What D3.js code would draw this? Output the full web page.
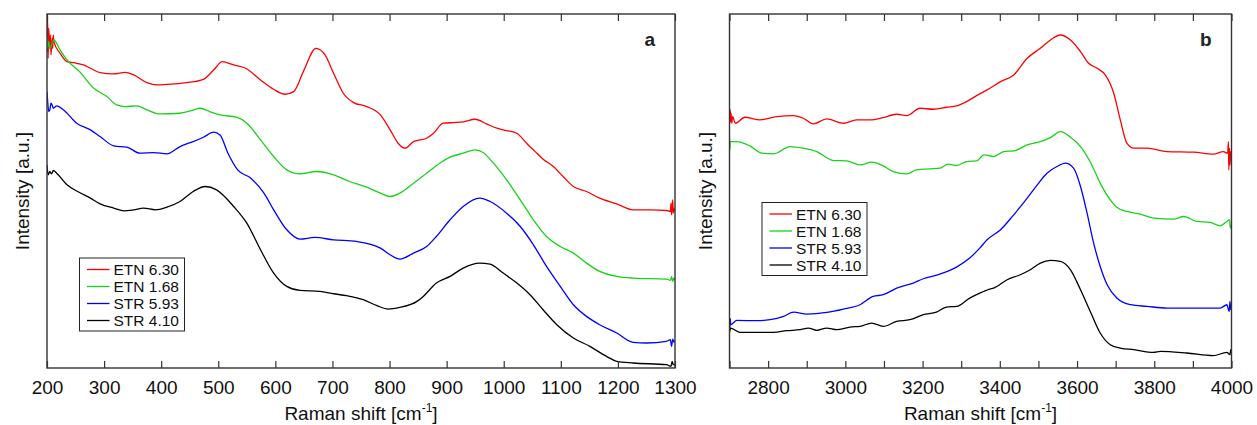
<!DOCTYPE html>
<html>
<head>
<meta charset="utf-8">
<script src="https://cdn.jsdelivr.net/npm/d3@7"></script>
<style>
  body { margin: 0; background: #fff; }
  svg { display: block; font-family: "Liberation Sans", Arial, sans-serif; }
</style>
</head>
<body>
<div id="vis"></div>
<script>
'use strict'

////////////////////////////////////////
//////////////// Data //////////////////
////////////////////////////////////////

const seriesNames = ["ETN 6.30", "ETN 1.68", "STR 5.93", "STR 4.10"];
const seriesColors = ["#ff0000", "#18d218", "#0000ff", "#000000"];

const ticksA = [200, 300, 400, 500, 600, 700, 800, 900, 1000, 1100, 1200, 1300];
const ticksB = [2700, 2800, 2900, 3000, 3100, 3200, 3300, 3400, 3500, 3600, 3700, 3800, 3900, 4000];
const labelsB = [2800, 3000, 3200, 3400, 3600, 3800, 4000];

// panel a : [Raman shift, intensity a.u.]
const etn630A = [[200,95],[201,105.5],[202,93],[203,102],[205,96],[206,100],[207,94],[209,99],[210,96],[211,100],[212,98],
  [223,94.5],[235,92],[252,91.5],[264,91],[276,90],[293,88.7],[317,88.3],[337,88.8],[352,88],[375,85.7],[393,85],
  [422,85.3],[445,85.7],[474,86.7],[492,89.5],[507,92],[527,91],[548,90],[574,86.5],[597,83.7],[617,82.2],[632,83],
  [649,89],[671,96],[687,94],[702,88.5],[719,82.5],[737,79.7],[760,78.5],[784,76],[801,71.5],[815,67.5],[827,66],
  [842,68],[865,69],[877,70.5],[894,73.5],[912,73.7],[929,73.9],[950,74.7],[970,73.3],[988,72],[1005,71.3],[1023,70.5],
  [1040,67.5],[1058,64.5],[1069,62.7],[1087,60.5],[1104,57.5],[1122,54.5],[1145,53],[1168,51],[1198,49.3],[1227,47.5],
  [1256,47.5],[1285,47.3],[1292,47],[1293,49.5],[1294,46],[1295,48],[1296,50.5],[1297,46.5],[1298,48],[1300,47]];

const etn168A = [[200,99],[201,96],[203,98],[205,96],[212,98.5],[223,95.5],[235,92.5],[257,89],[282,84],[305,81.5],
  [322,79],[337,78.5],[357,78.7],[375,77.5],[398,76.3],[433,76.5],[451,77.2],[468,78],[485,77],[503,76],[532,75.3],
  [550,73.5],[574,68.5],[597,63.5],[620,59.5],[643,58.3],[672,59],[702,58],[730,56],[760,54.3],[784,52.5],[801,51.5],
  [818,52.5],[842,55.5],[865,58.5],[888,61.5],[906,63.3],[929,64.5],[950,65.5],[964,64.7],[982,61.5],[1005,56.5],
  [1029,50.5],[1052,44.5],[1075,39.5],[1099,36.5],[1122,34.5],[1145,31.5],[1168,29],[1198,27.5],[1227,27],[1285,26.7],
  [1292,26.3],[1294,27.5],[1296,26],[1298,27],[1300,26.5]];

const str593A = [[200,83],[201,80.5],[203,77],[205,77.5],[207,79.5],[209,79],[211,78],[217,78.7],[229,77.5],[252,73.5],
  [276,71.5],[293,69.5],[317,66.7],[340,66.3],[363,64.5],[387,64.7],[410,64.3],[433,66.5],[456,68],[474,69.3],[492,70.8],
  [503,70],[517,64.5],[534,59.5],[557,57],[580,52.5],[597,47.5],[620,41.5],[643,38.7],[669,39.2],[702,38.5],[742,38],
  [784,36],[801,34],[818,32.7],[842,34.5],[865,36.5],[882,39.5],[906,44.5],[929,48.5],[958,51],[976,50],[1005,46.5],
  [1029,42.5],[1052,37],[1075,30.5],[1099,24.5],[1122,19],[1145,15.5],[1168,13],[1198,10.5],[1227,7.7],[1250,7.5],
  [1285,8],[1292,8.5],[1294,6.5],[1296,8.7],[1298,7.8],[1300,8.2]];

const str410A = [[200,61],[202,58],[205,59],[208,58.3],[211,59.3],[217,58.5],[235,55],[257,52.7],[276,51],[293,49.3],
  [317,48],[335,47.2],[352,47.5],[369,48],[390,47.5],[410,48.3],[433,50],[456,53],[477,54.5],[497,53.5],[527,48.5],
  [550,43.5],[574,35.5],[597,28.5],[620,24.5],[643,23.3],[678,23],[702,22.3],[725,21.7],[754,20.5],[778,18.7],[798,17.7],
  [818,18.2],[848,20],[859,21.5],[882,25.5],[906,27.5],[929,30],[958,31.5],[976,31.2],[999,28.5],[1023,25.5],[1046,22],
  [1069,17.5],[1093,13],[1122,9],[1151,6.5],[1180,3.5],[1198,2],[1227,1.5],[1285,1],[1293,0.5],[1295,2],[1297,1],[1300,1]];

// panel b
const etn630B = [[2700,78],[2701,73.5],[2702,77.5],[2703,74],[2704,76.5],[2706,73.5],[2708,75.5],[2715,73.5],[2740,75.3],
  [2779,74.5],[2822,75.5],[2866,75.8],[2891,75],[2917,73.3],[2952,74.8],[2995,73.5],[3029,74.5],[3064,74.5],[3098,75.2],
  [3133,76.2],[3159,75.8],[3193,78],[3228,77.7],[3262,78.3],[3288,78.7],[3314,80],[3340,81.8],[3367,83.5],[3402,86],
  [3436,88],[3471,93],[3505,96],[3531,98.5],[3557,100],[3583,98.5],[3609,95],[3630,91.5],[3652,90],[3673,88],[3695,82.5],
  [3712,74.5],[3729,67.5],[3747,66],[3781,66],[3833,65],[3902,64.8],[3953,64.2],[3979,65],[3990,64.5],[3992,68],
  [3993,59.5],[3995,66],[3996,61],[3998,65],[4000,63.5]];

const etn168B = [[2700,69.5],[2701,65.5],[2702,68],[2719,68],[2753,66.7],[2784,64.5],[2814,64.3],[2857,66.5],[2891,66],
  [2926,65],[2969,62.3],[3003,62.2],[3038,61],[3068,61.8],[3098,60.7],[3124,59],[3159,58.3],[3184,59.5],[3219,59.8],
  [3245,60],[3266,61.2],[3288,60.8],[3314,62],[3340,62.2],[3359,64],[3384,63.5],[3410,65],[3436,65.2],[3471,67],
  [3505,68],[3531,69.2],[3557,71],[3583,69.3],[3609,66.5],[3636,61.5],[3660,55.5],[3686,50.5],[3703,48.3],[3729,47],
  [3764,46.2],[3798,45],[3850,44.7],[3876,45.5],[3910,44],[3945,43.7],[3971,42.7],[3988,44],[3995,44.5],[3997,42],[4000,43]];

const str593B = [[2700,15],[2701,12],[2702,14.8],[2703,13],[2719,14.3],[2771,14.2],[2805,14.5],[2840,15.5],[2866,16.8],
  [2900,16.2],[2952,16.7],[2995,17.7],[3038,19],[3072,21.5],[3098,22],[3133,24],[3176,25.5],[3202,26.8],[3245,28.2],
  [3288,30.3],[3322,33],[3348,36],[3367,38.5],[3402,41.5],[3436,46],[3471,51],[3497,55],[3522,58.5],[3548,60.5],
  [3570,61.5],[3591,60],[3609,54.5],[3626,46.5],[3643,37.5],[3660,30.5],[3678,25],[3703,21],[3738,19],[3781,18.5],
  [3833,18],[3902,18],[3971,18],[3988,19],[3994,17],[3996,20],[3998,17.5],[4000,19]];

const str410B = [[2700,11.5],[2701,11],[2702,12],[2728,10.7],[2771,10.7],[2814,10.7],[2848,11.2],[2883,11.5],[2904,12],
  [2926,11.3],[2952,12],[2978,11.5],[3012,12.3],[3038,12.5],[3068,13.5],[3098,12.5],[3133,14],[3167,14.5],[3202,16],
  [3236,16.8],[3262,18.3],[3288,18.5],[3322,21],[3348,22.5],[3374,23.7],[3384,24],[3419,26.5],[3453,28],[3479,29.5],
  [3505,31.5],[3531,32.3],[3557,32],[3583,29.5],[3609,23.5],[3636,16.5],[3660,10.5],[3686,7],[3712,6],[3747,5.5],
  [3798,4.7],[3816,5],[3884,4.5],[3953,3.7],[3988,4.7],[3996,4],[3998,5.5],[4000,4.5]];

////////////////////////////////////////
////////////// SVG Setup ///////////////
////////////////////////////////////////

const W = 1257, H = 425;

const svg = d3.select('#vis').append('svg')
  .attr('width', W)
  .attr('height', H);

////////////////////////////////////////
/////////////// Panels /////////////////
////////////////////////////////////////

function panel(series, options) {

  let defaults = {
    left: 47, top: 14, width: 628, height: 354,
    domain: [200, 1300],
    ticks: [],
    labels: null,
    tag: "a",
    legendTop: 244
  }
  options = { ...defaults, ...options };

  const g = svg.append('g')
    .attr('transform', `translate(${options.left},${options.top})`);

  const x = d3.scaleLinear().domain(options.domain).range([0, options.width]);
  const y = d3.scaleLinear().domain([0, 106.3]).range([options.height, 0]);

  const clipId = 'clip-' + options.tag;
  g.append('clipPath').attr('id', clipId)
    .append('rect').attr('width', options.width).attr('height', options.height);

  const line = d3.line()
    .x(d => x(d[0]))
    .y(d => y(d[1]))
    .curve(d3.curveMonotoneX);

  g.append('g')
    .attr('clip-path', `url(#${clipId})`)
    .selectAll('path')
    .data(series)
    .join('path')
    .attr('fill', 'none')
    .attr('stroke', (d, i) => seriesColors[i])
    .attr('stroke-width', 1.3)
    .attr('stroke-linejoin', 'round')
    .attr('d', line);

  // ticks, inward, top and bottom
  const labelSet = options.labels || options.ticks;

  const bottomAxis = d3.axisBottom(x)
    .tickValues(options.ticks)
    .tickSizeInner(-7)
    .tickSizeOuter(0)
    .tickPadding(13)
    .tickFormat(d => labelSet.includes(d) ? d : "");

  const ax = g.append('g')
    .attr('transform', `translate(0,${options.height})`)
    .call(bottomAxis);
  ax.select('.domain').remove();
  ax.selectAll('line').attr('stroke', '#333').attr('stroke-width', 1.2);
  ax.selectAll('text')
    .attr('fill', '#111')
    .style('font-size', '19px');

  const topAxis = d3.axisTop(x)
    .tickValues(options.ticks)
    .tickSizeInner(-7)
    .tickSizeOuter(0)
    .tickFormat("");
  const at = g.append('g').call(topAxis);
  at.select('.domain').remove();
  at.selectAll('line').attr('stroke', '#333').attr('stroke-width', 1.2);

  // frame
  g.append('rect')
    .attr('width', options.width)
    .attr('height', options.height)
    .attr('fill', 'none')
    .attr('stroke', '#333')
    .attr('stroke-width', 1.4);

  // axis titles
  const xt = g.append('text')
    .attr('x', options.width / 2)
    .attr('y', options.height + 52)
    .attr('text-anchor', 'middle')
    .style('font-size', '19px')
    .attr('fill', '#111');
  xt.append('tspan').text('Raman shift [cm');
  xt.append('tspan').text('-1').style('font-size', '12px').attr('dy', -8);
  xt.append('tspan').text(']').attr('dy', 8);

  g.append('text')
    .attr('transform', `translate(-18,${options.height / 2}) rotate(-90)`)
    .attr('text-anchor', 'middle')
    .style('font-size', '19px')
    .attr('fill', '#111')
    .text('Intensity [a.u.]');

  g.append('text')
    .attr('x', options.width - 20)
    .attr('y', 32)
    .attr('text-anchor', 'end')
    .style('font-size', '19px')
    .style('font-weight', 'bold')
    .attr('fill', '#222')
    .text(options.tag);

  // legend
  const lg = g.append('g')
    .attr('transform', `translate(32.5,${options.legendTop})`);

  lg.append('rect')
    .attr('width', 105)
    .attr('height', 73)
    .attr('fill', '#fff')
    .attr('stroke', '#222')
    .attr('stroke-width', 1);

  const rows = lg.selectAll('g.row')
    .data(seriesNames)
    .join('g')
    .attr('class', 'row')
    .attr('transform', (d, i) => `translate(0,${11.5 + i * 17})`);

  rows.append('line')
    .attr('x1', 7.5).attr('x2', 30)
    .attr('stroke', (d, i) => seriesColors[i])
    .attr('stroke-width', 1.3);

  rows.append('text')
    .attr('x', 34)
    .attr('dy', '0.36em')
    .style('font-size', '15.5px')
    .attr('fill', '#111')
    .text(d => d);
}

panel([etn630A, etn168A, str593A, str410A], {
  left: 47, width: 628, domain: [200, 1300], ticks: ticksA, tag: "a", legendTop: 244
});

panel([etn630B, etn168B, str593B, str410B], {
  left: 729.5, width: 502, domain: [2700, 4000], ticks: ticksB, labels: labelsB, tag: "b", legendTop: 188.5
});
</script>
</body>
</html>
